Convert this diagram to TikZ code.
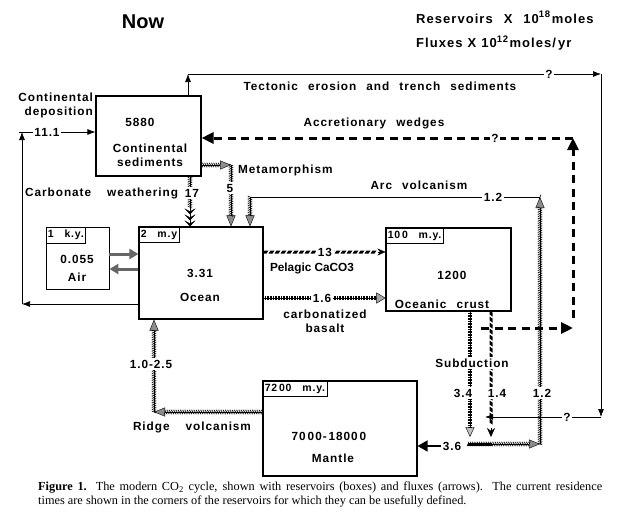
\documentclass[tikz,border=0pt]{standalone}
\usepackage{fontspec}
\setmainfont{Liberation Serif}
\newfontfamily\lab[LetterSpace=8,WordSpace=2.4]{Liberation Sans}
\newfontfamily\labnow{Liberation Sans}
\usetikzlibrary{arrows.meta,decorations.markings,calc}
\begin{document}
\begin{tikzpicture}[x=1pt,y=-1pt,
  box/.style={draw,line width=1.1pt,inner sep=0pt},
  tag/.style={draw,line width=0.7pt,anchor=north west,inner xsep=2pt,inner ysep=0pt,minimum height=16pt,font=\lab\bfseries\fontsize{10.5}{12}\selectfont},
  txt/.style={font=\lab\bfseries\fontsize{11.8}{13}\selectfont,inner sep=1pt},
  lbl/.style={txt,fill=white,inner sep=1.5pt},
  thinarrow/.style={line width=0.7pt,-{Latex[length=8pt,width=6pt]}},
  tdash/.style={line width=3pt,dash pattern=on 8pt off 5.5pt,-{Triangle[length=12pt,width=11pt]}},
  hatch/.style={line width=0.4pt,postaction={decorate,decoration={markings,
     mark=between positions 0 and -#1pt step 1.8pt with {\draw[line width=0.6pt,solid,-] (-1pt,-2.2pt) -- (1pt,2.2pt);}}}},
  hatch/.default=10,
  vstripe/.style={line width=0.4pt,postaction={decorate,decoration={markings,
     mark=between positions 0 and -#1pt step 1.6pt with {\draw[line width=0.5pt,solid,-] (0pt,-2.3pt) -- (0pt,2.3pt);}}}},
  vstripe/.default=9,
  slashd/.style={draw=none,postaction={decorate,decoration={markings,
     mark=between positions 2pt and -#1pt step 6pt with {\fill (-3pt,-1.5pt) -- (1pt,-1.5pt) -- (3pt,1.5pt) -- (-1pt,1.5pt) -- cycle;}}}},
  slashd/.default=8,
  htip/.style={-{Triangle[length=11pt,width=9pt,fill=black!45]}},
  chev/.style={-{Stealth[length=6pt,width=11pt,inset=3pt]Stealth[length=6pt,width=11pt,inset=3pt]Stealth[length=6pt,width=11pt,inset=3pt]}},
  airarrow/.style={line width=3pt,draw=black!60,-{Triangle[length=9pt,width=10pt]}},
  bigblack/.style={line width=1.5pt,-{Triangle[length=10pt,width=11pt]}}
]
\useasboundingbox (0,0) rectangle (622,525);

% ---------- reservoirs ----------
\node[box,minimum width=105pt,minimum height=80pt] (cont) at (148.5,136) {};
\node[box,minimum width=124pt,minimum height=92pt] (ocean) at (201,273) {};
\node[box,minimum width=63pt,minimum height=62pt,line width=0.8pt] (air) at (77.5,258) {};
\node[box,minimum width=125pt,minimum height=83pt] (crust) at (448.5,269.5) {};
\node[box,minimum width=154pt,minimum height=95pt] (mantle) at (340,428.5) {};

\node[tag] (tair) at (air.north west) {1\, k.y.};
\node[tag] (tocean) at (ocean.north west) {2\, m.y};
\node[tag] (tcrust) at (crust.north west) {10\,0\, m.y.};
\node[tag] (tmantle) at (mantle.north west) {72\,00\, m.y.};

% ---------- coordinates ----------
\coordinate (t1) at (188,74);
\coordinate (t2) at (601,74);
\coordinate (t3) at (601,417);
\coordinate (t4) at (485,417);
\coordinate (a1) at (481,328);
\coordinate (a2) at (573,328);
\coordinate (a2b) at (573,318);
\coordinate (a3) at (573,138);
\coordinate (d1) at (22,304);
\coordinate (d2) at (22,132);
\coordinate (d0) at (19,132);
\coordinate (wx) at (190,200);
\coordinate (m1) at (231,165);
\coordinate (c0) at (468,444);
\coordinate (c0b) at (492,444);
\coordinate (c1) at (540,444);
\coordinate (c2) at (540,197);
\coordinate (c3) at (250,197);
\coordinate (p) at (300,252);
\coordinate (p0) at (378,252);
\coordinate (b) at (300,298);
\coordinate (aa) at (100,254);
\coordinate (ab) at (100,269);
\coordinate (s1) at (470,330);
\coordinate (s2) at (470,437);
\coordinate (s3) at (491,330);
\coordinate (s4) at (491,437);
\coordinate (s4b) at (491,428);
\coordinate (r1) at (154,412);

% ---------- connectors ----------
% tectonic erosion
\draw[thinarrow] (cont.north -| t1) -- (t1);
\draw[thinarrow] (t1) -- (t2);
\draw[thinarrow] (t2) -- (t3);
\draw[thinarrow] (t3) -- (t4);
% accretionary wedges
\draw[tdash] (a1) -- (a2);
\draw[tdash] (a2b) -- (a3);
\draw[tdash] (a3) -- (cont.east |- a3);
% continental deposition
\draw[thinarrow] (ocean.west |- d1) -- (d1);
\draw[thinarrow] (d1) -- (d2);
\draw[thinarrow] (d0) -- (cont.west |- d2);
% carbonate weathering
\draw[hatch=19,chev] (cont.south -| wx) -- (ocean.north -| wx);
% metamorphism
\draw[hatch,htip] (cont.east |- m1) -- (m1);
\draw[hatch,htip] (m1) -- (ocean.north -| m1);
% arc volcanism
\draw[line width=3pt] (c0) -- (c0b);
\draw[hatch,htip] (c0) -- (c1);
\draw[hatch,htip] (c1) -- (c2);
\draw[hatch=0] (c2) -- (c3);
\draw[hatch,htip] (c3) -- (ocean.north -| c3);
% pelagic CaCO3
\draw[slashd] (ocean.east |- p) -- (crust.west |- p);
\draw[-{Stealth[length=8pt,width=7pt]}] (p0) -- (crust.west |- p);
% carbonatized basalt
\draw[vstripe,-{Triangle[length=9pt,width=11pt,fill=black!35]}] (ocean.east |- b) -- (crust.west |- b);
% air exchange
\draw[airarrow] (air.east |- aa) -- (ocean.west |- aa);
\draw[airarrow] (ocean.west |- ab) -- (air.east |- ab);
% subduction
\draw[vstripe,-{Triangle[length=10pt,width=9pt,fill=black!25]}] (crust.south -| s1) -- (s2);
\draw[slashd=10] (crust.south -| s3) -- (s4);
\draw[-{Stealth[length=9pt,width=8pt]}] (s4b) -- (s4);
% ridge volcanism
\draw[hatch,htip] (mantle.west |- r1) -- (r1);
\draw[hatch,htip] (r1) -- (ocean.south -| r1);

% ---------- labels ----------
\node[txt] (now) at (143,22) {\labnow\bfseries\fontsize{20}{22}\selectfont Now};
\node[txt,anchor=west,font=\lab\bfseries\fontsize{13}{14}\selectfont] (res) at (415,17) {Reservoirs\hspace{11pt}X\hspace{11pt}10\raisebox{5.5pt}{\fontsize{9.5}{10}\selectfont 18}\hspace{1.5pt}moles};
\node[txt,anchor=west,font=\lab\bfseries\fontsize{13}{14}\selectfont] (flux) at (415,43) {Fluxes\hspace{5pt}X\hspace{5pt}10\raisebox{5.5pt}{\fontsize{9.5}{10}\selectfont 12}\hspace{1.5pt}moles/\,yr};

\node[txt,align=right,anchor=east] (ldep) at (94,105) {Continental\\[1pt]deposition};
\node[lbl] (l111) at (47,132) {11.1};
\node[txt] (n5880) at (140,122) {5880};
\node[txt,align=center] (ncont) at (150,155) {Continental\\[1pt]sediments};

\node[txt] (ltect) at (380,86) {Tectonic erosion and trench sediments};
\node[lbl] (q1) at (549,74) {?};
\node[txt] (lacc) at (374,123) {Accretionary wedges};
\node[lbl] (q2) at (495,138) {?};
\node[lbl] (q3) at (567,417) {?};

\node[txt,anchor=west] (lmeta) at (237,170) {Metamorphism};
\node[txt,anchor=west] (lweath) at (24,193) {Carbonate\hspace{6pt} weathering};
\node[lbl] (l17) at (192,193) {17};
\node[lbl] (l5) at (230,188) {5};
\node[txt] (larc) at (419,185) {Arc volcanism};
\node[lbl] (l12a) at (493,197) {1.2};

\node[txt] (nair1) at (77,259) {0.055};
\node[txt] (nair2) at (77,277) {Air};
\node[txt] (nocean1) at (200,273) {3.31};
\node[txt] (nocean2) at (200,297) {Ocean};

\node[lbl] (l13) at (325,252) {13};
\node[txt,font=\labnow\bfseries\fontsize{11.8}{13}\selectfont] (lpel) at (312,268) {Pelagic CaCO3};
\node[lbl] (l16) at (322,298) {1.6};
\node[txt,align=center] (lbas) at (325,321) {carbonatized\\[1pt]basalt};

\node[txt] (ncrust1) at (452,275) {1200};
\node[txt] (ncrust2) at (442,304) {Oceanic crust};

\node[lbl] (lsub) at (472,363) {Subduction};
\node[lbl] (l34) at (463,393) {3.4};
\node[lbl] (l14) at (497,393) {1.4};
\node[lbl] (l12b) at (542,393) {1.2};
\node[lbl] (l36) at (452,446) {3.6};
\draw[bigblack] (l36.west) -- (mantle.east |- l36);

\node[lbl] (l1025) at (151,364) {1.0-2.5};
\node[txt] (lridge) at (192,427) {Ridge\hspace{6pt} volcanism};
\node[txt] (nmant1) at (329,436) {70\,00-\,1800\,0};
\node[txt] (nmant2) at (333,458) {Mantle};

\node[anchor=north west,font=\fontsize{12.3}{13.5}\selectfont,align=left,inner sep=0pt] (cap) at (38,482)
 {\makebox[564pt][s]{\textbf{Figure 1.} The modern CO\textsubscript{2} cycle, shown with reservoirs (boxes) and fluxes (arrows).\ \ The current residence}\\
 times are shown in the corners of the reservoirs for which they can be usefully defined.};
\end{tikzpicture}
\end{document}
